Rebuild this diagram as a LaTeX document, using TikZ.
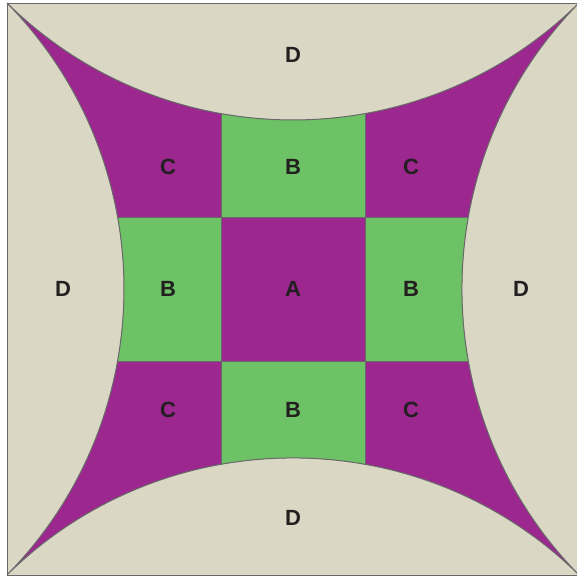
\documentclass[tikz,border=0pt]{standalone}
\usepackage{fontspec}
\setmainfont{Liberation Sans}
\definecolor{quiltbg}{RGB}{218,216,197}
\definecolor{quiltpurple}{RGB}{155,39,143}
\definecolor{quiltgreen}{RGB}{108,194,100}
\definecolor{quiltline}{RGB}{105,105,105}
\definecolor{quiltink}{RGB}{35,31,32}
\newcommand{\fanpath}{(-286,286)
  arc[start angle=225.5, end angle=314.5, radius=408pt]
  arc[start angle=135.5, end angle=224.5, radius=408pt]
  arc[start angle=45.5, end angle=134.5, radius=408pt]
  arc[start angle=-44.5, end angle=44.5, radius=408pt] -- cycle}
\begin{document}
\begin{tikzpicture}[x=1pt,y=1pt,
  patch/.style={text=quiltink, font=\fontsize{22}{22}\selectfont\bfseries},
  seam/.style={draw=quiltline, line width=0.8pt}]
\useasboundingbox (-293,-288) rectangle (283,289);
% background square
\fill[quiltbg] (-286,-286) rectangle (286,286);
\draw[seam] (-286,-286) rectangle (286,286);
% curved centre
\fill[quiltpurple] \fanpath;
\begin{scope}
\clip \fanpath;
\filldraw[fill=quiltgreen, seam] (-72,72) rectangle (72,180);
\filldraw[fill=quiltgreen, seam] (-72,-72) rectangle (72,-180);
\filldraw[fill=quiltgreen, seam] (-180,-72) rectangle (-72,72);
\filldraw[fill=quiltgreen, seam] (72,-72) rectangle (180,72);
\end{scope}
\draw[seam, line width=1pt] \fanpath;
% labels
\node[patch] (a) at (0,0) {A};
\node[patch] (bt) at (0,122) {B};
\node[patch] (bb) at (0,-121) {B};
\node[patch] (bl) at (-125,0) {B};
\node[patch] (br) at (118,0) {B};
\node[patch] (ctl) at (-125,122) {C};
\node[patch] (ctr) at (118,122) {C};
\node[patch] (cbl) at (-125,-121) {C};
\node[patch] (cbr) at (118,-121) {C};
\node[patch] (dt) at (0,234) {D};
\node[patch] (db) at (0,-229) {D};
\node[patch] (dl) at (-230,0) {D};
\node[patch] (dr) at (228,0) {D};
\end{tikzpicture}
\end{document}
